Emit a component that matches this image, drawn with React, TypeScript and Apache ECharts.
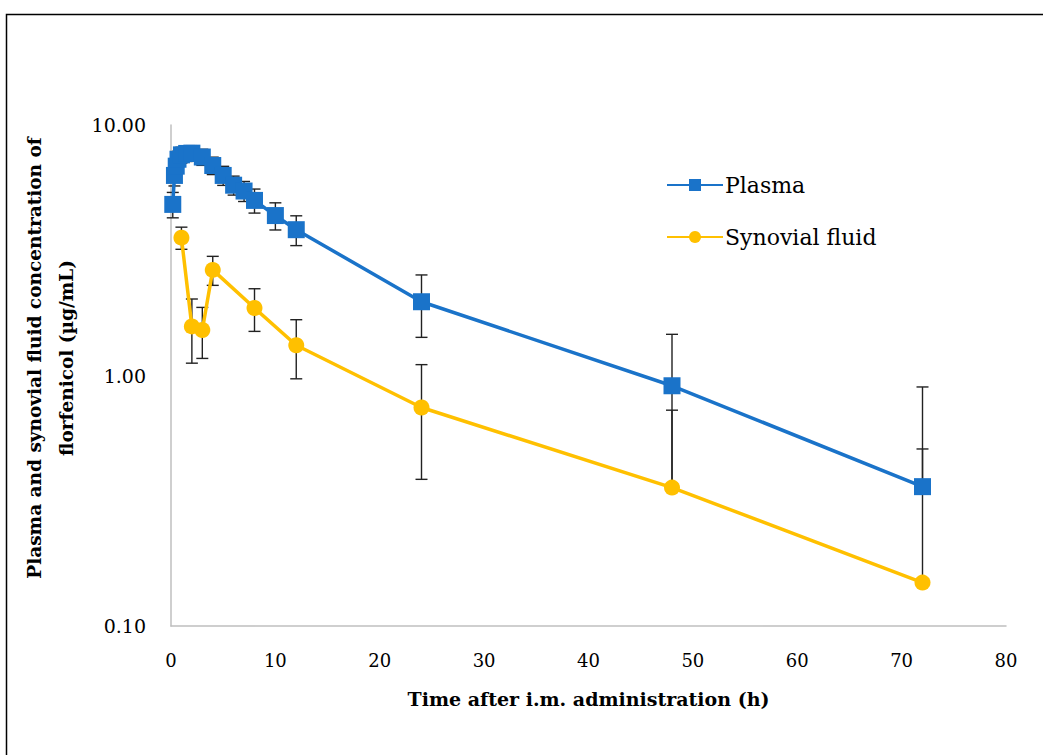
import React, { useEffect, useRef } from "react";
import * as echarts from "echarts";

const plasmaTime = [0.17, 0.33, 0.5, 0.67, 1, 1.5, 2, 3, 4, 5, 6, 7, 8, 10, 12, 24, 48, 72];
const plasmaMean = [4.82, 6.29, 6.85, 7.3, 7.6, 7.7, 7.72, 7.45, 6.89, 6.29, 5.75, 5.45, 5.0, 4.35, 3.82, 1.97, 0.91, 0.36];
const plasmaSD = [0.56, 0.58, 0.55, 0.55, 0.55, 0.55, 0.55, 0.55, 0.55, 0.55, 0.5, 0.5, 0.55, 0.54, 0.52, 0.55, 0.55, 0.54];

const synTime = [1, 2, 3, 4, 8, 12, 24, 48, 72];
const synMean = [3.55, 1.57, 1.52, 2.64, 1.86, 1.32, 0.745, 0.357, 0.149];
const synSD = [0.36, 0.45, 0.35, 0.35, 0.36, 0.35, 0.36, 0.37, 0.36];

const yTicks = [0.1, 1, 10];
const xTickLabels = ["0", "10", "20", "30", "40", "50", "60", "70", "80"];

const FONT = "'DejaVu Serif', 'Liberation Serif', serif";
const BLUE = "#1A73C9";
const GOLD = "#FFC000";

function errorBarSeries(time: number[], mean: number[], sd: number[]) {
  return {
    type: "custom",
    z: 1,
    silent: true,
    data: time.map((t, i) => [t, mean[i], sd[i]]),
    encode: { x: 0, y: 1 },
    renderItem: (params: any, api: any) => {
      const x = api.value(0);
      const m = api.value(1);
      const s = api.value(2);
      const p = api.coord([x, m]);
      const hi = api.coord([x, m + s]);
      const cap = 6;
      const style = { stroke: "#222", lineWidth: 1.4 };
      const children: any[] = [
        { type: "line", shape: { x1: p[0], y1: p[1], x2: hi[0], y2: hi[1] }, style },
        { type: "line", shape: { x1: hi[0] - cap, y1: hi[1], x2: hi[0] + cap, y2: hi[1] }, style },
      ];
      if (m - s > 0) {
        const lo = api.coord([x, m - s]);
        children.push(
          { type: "line", shape: { x1: p[0], y1: p[1], x2: lo[0], y2: lo[1] }, style },
          { type: "line", shape: { x1: lo[0] - cap, y1: lo[1], x2: lo[0] + cap, y2: lo[1] }, style }
        );
      }
      return { type: "group", children };
    },
  };
}

export default function App() {
  const ref = useRef<HTMLDivElement>(null);
  useEffect(() => {
    if (!ref.current) return;
    const chart = echarts.init(ref.current, undefined, { renderer: "svg" });
    chart.setOption({
      animation: false,
      backgroundColor: "#fff",
      grid: { left: 171, top: 125, right: 37, bottom: 129, containLabel: false },
      xAxis: {
        type: "value",
        min: 0,
        max: 80,
        interval: 10,
        name: "Time after i.m. administration (h)",
        nameLocation: "middle",
        nameGap: 63,
        nameTextStyle: { fontFamily: FONT, fontSize: 19, fontWeight: "bold", color: "#000" },
        axisLine: { show: true, onZero: false, lineStyle: { color: "#BFBFBF", width: 1.5 } },
        axisTick: { show: false },
        splitLine: { show: false },
        axisLabel: {
          fontFamily: FONT,
          fontSize: 18,
          color: "#000",
          margin: 25,
          formatter: (v: number) => xTickLabels[Math.round(v / 10)] ?? String(v),
        },
      },
      yAxis: {
        type: "log",
        logBase: 10,
        min: yTicks[0],
        max: yTicks[yTicks.length - 1],
        axisLine: { show: true, lineStyle: { color: "#BFBFBF", width: 1.5 } },
        axisTick: { show: false },
        splitLine: { show: false },
        minorTick: { show: false },
        axisLabel: {
          fontFamily: FONT,
          fontSize: 19,
          color: "#000",
          margin: 25,
          formatter: (v: number) => v.toFixed(2),
        },
      },
      legend: {
        orient: "vertical",
        left: 661,
        top: 169,
        itemWidth: 56,
        itemHeight: 15,
        itemGap: 30,
        textStyle: { fontFamily: FONT, fontSize: 22, color: "#000", padding: [0, 0, 0, -3] },
        data: ["Plasma", "Synovial fluid"],
      },
      graphic: [
        {
          type: "rect",
          shape: { x: 6.5, y: 14.5, width: 1100, height: 800 },
          style: { fill: "none", stroke: "#000", lineWidth: 1.5 },
          silent: true,
          z: -10,
        },
        {
          type: "text",
          x: 50,
          y: 358,
          rotation: Math.PI / 2,
          style: {
            text: "Plasma and synovial fluid concentration of\nflorfenicol (µg/mL)",
            fontFamily: FONT,
            fontSize: 18.5,
            fontWeight: "bold",
            fill: "#000",
            align: "center",
            verticalAlign: "middle",
            lineHeight: 32,
          },
        },
      ],
      series: [
        errorBarSeries(plasmaTime, plasmaMean, plasmaSD),
        errorBarSeries(synTime, synMean, synSD),
        {
          name: "Plasma",
          type: "line",
          z: 3,
          data: plasmaTime.map((t, i) => [t, plasmaMean[i]]),
          symbol: "rect",
          symbolSize: 17,
          itemStyle: { color: BLUE },
          lineStyle: { color: BLUE, width: 3.5 },
        },
        {
          name: "Synovial fluid",
          type: "line",
          z: 4,
          data: synTime.map((t, i) => [t, synMean[i]]),
          symbol: "circle",
          symbolSize: 16,
          itemStyle: { color: GOLD },
          lineStyle: { color: GOLD, width: 3.5 },
        },
      ],
    });
    return () => chart.dispose();
  }, []);
  return (
    <div
      ref={ref}
      style={{ position: "fixed", left: 0, top: 0, width: 1043, height: 755 }}
    />
  );
}
